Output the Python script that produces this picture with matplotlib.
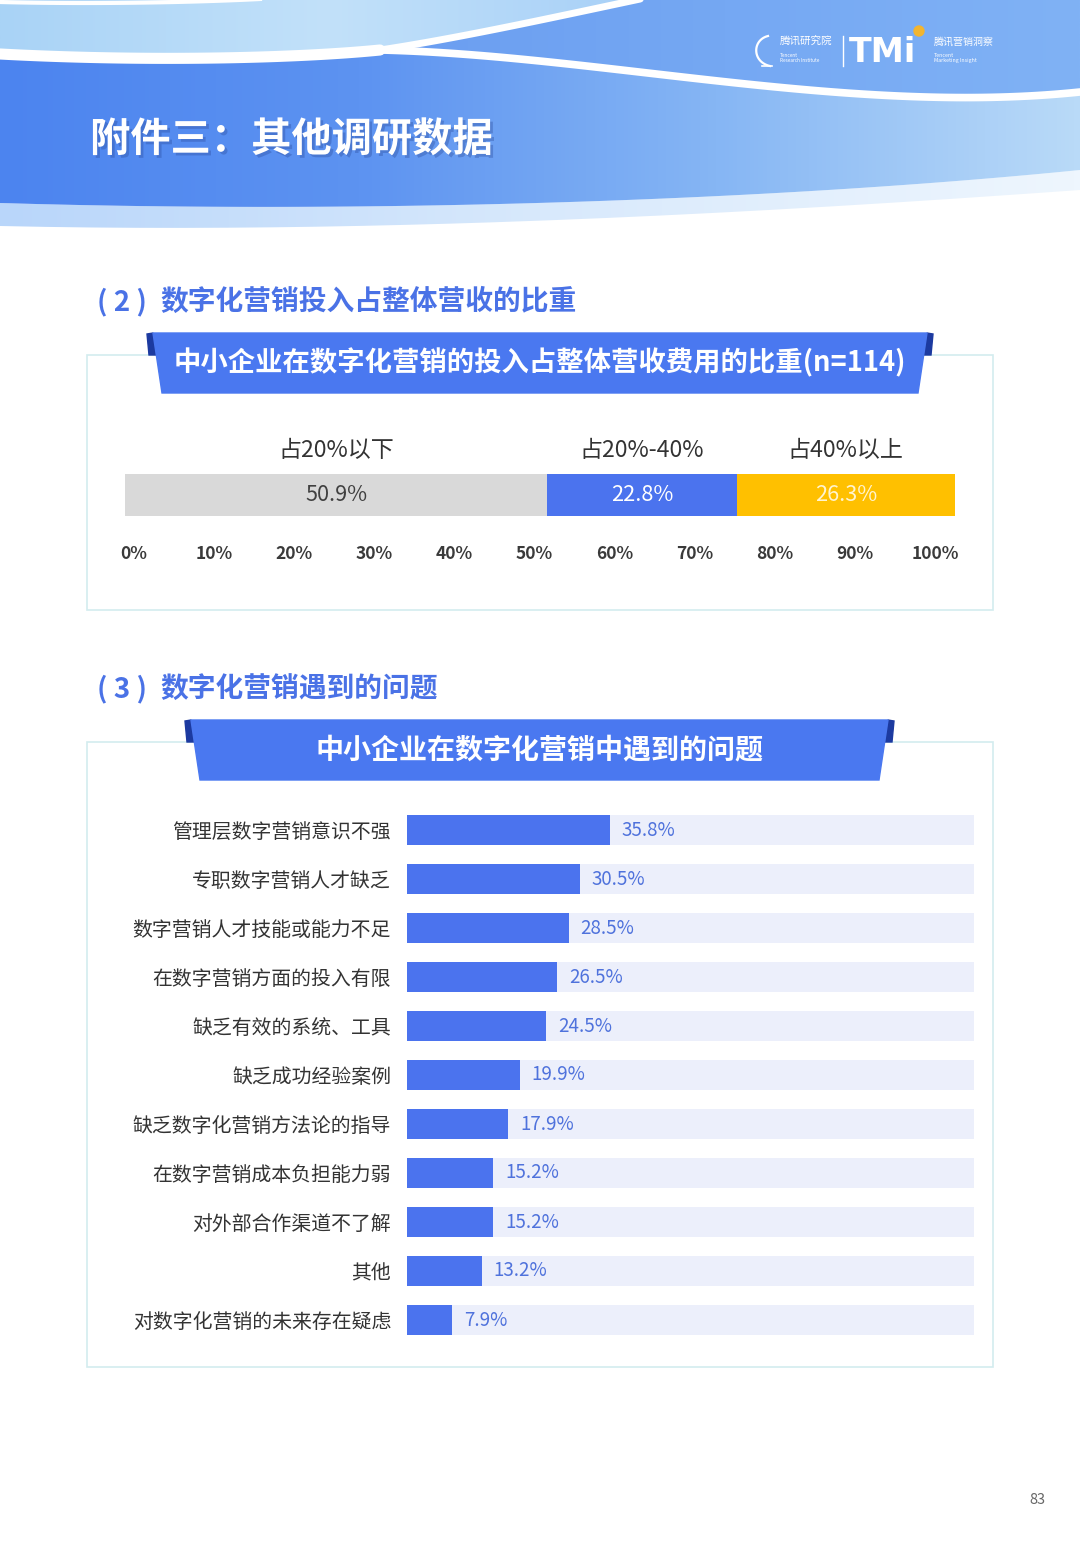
import numpy as np
import matplotlib
matplotlib.use("Agg")
import matplotlib.pyplot as plt
from matplotlib.path import Path
from matplotlib.patches import PathPatch, Polygon, Rectangle, Circle
from matplotlib.colors import LinearSegmentedColormap
import matplotlib.patheffects as pe

plt.rcParams['font.family'] = ['Noto Sans CJK SC', 'DejaVu Sans']

# ---------------- data ----------------
share_labels = ["占20%以下", "占20%-40%", "占40%以上"]
share_values = [50.9, 22.8, 26.3]
share_ticks = [0, 10, 20, 30, 40, 50, 60, 70, 80, 90, 100]

problems = ["管理层数字营销意识不强", "专职数字营销人才缺乏", "数字营销人才技能或能力不足",
            "在数字营销方面的投入有限", "缺乏有效的系统、工具", "缺乏成功经验案例",
            "缺乏数字化营销方法论的指导", "在数字营销成本负担能力弱", "对外部合作渠道不了解",
            "其他", "对数字化营销的未来存在疑虑"]
problem_values = [35.8, 30.5, 28.5, 26.5, 24.5, 19.9, 17.9, 15.2, 15.2, 13.2, 7.9]

page_title = "附件三：其他调研数据"
heading2_num = "( 2 )"
heading2 = "数字化营销投入占整体营收的比重"
banner2 = "中小企业在数字化营销的投入占整体营收费用的比重(n=114)"
heading3_num = "( 3 )"
heading3 = "数字化营销遇到的问题"
banner3 = "中小企业在数字化营销中遇到的问题"

# ---------------- styles ----------------
W, H = 1080, 1560
BLUE = "#4b73ee"
HEAD_BLUE = "#4a72e6"
GRAY = "#d9d9d9"
YELLOW = "#ffc000"
TRACK = "#eceffb"
BORDER = "#d3ecef"

fig = plt.figure(figsize=(W / 100, H / 100), dpi=100)
fig.patch.set_facecolor("white")

bg = fig.add_axes([0, 0, 1, 1])
bg.set_axis_off()
bg.set_zorder(0)


def px_axes(x0, y0, x1, y1):
    return fig.add_axes([x0 / W, 1 - y1 / H, (x1 - x0) / W, (y1 - y0) / H])


def bez(p0, p1, p2, p3, n=80):
    t = np.linspace(0, 1, n)[:, None]
    p0, p1, p2, p3 = map(np.array, (p0, p1, p2, p3))
    return (1 - t) ** 3 * p0 + 3 * (1 - t) ** 2 * t * p1 + 3 * (1 - t) * t ** 2 * p2 + t ** 3 * p3


def grad_fill(verts, colors, extent, z, vertical=False):
    patch = PathPatch(Path(verts), facecolor="none", edgecolor="none")
    bg.add_patch(patch)
    cmap = LinearSegmentedColormap.from_list("g", colors)
    arr = np.linspace(0, 1, 256)
    arr = arr.reshape(-1, 1) if vertical else arr.reshape(1, -1)
    im = bg.imshow(arr, cmap=cmap, extent=extent, aspect="auto", zorder=z,
                   interpolation="bilinear")
    im.set_clip_path(patch)


# ---- header decoration ----
cusp = (380, 50)
band_bottom = bez((1080, 170), (800, 198), (400, 215), (0, 203))
main_band = np.vstack([[(0, 0), (1080, 0)], band_bottom])
strip_bottom = bez((0, 226), (400, 235), (800, 210), (1080, 190))
strip = np.vstack([band_bottom, strip_bottom])
grad_fill(strip, ["#b9d6fa", "#d8e9fc", "#eef6fe"], (0, 1080, 240, 0), 1)
grad_fill(main_band, ["#4c84ef", "#5d93f1", "#86b6f4", "#b9daf8"], (0, 1080, 240, 0), 2)

rise = bez(cusp, (460, 38), (560, 16), (645, -2))
desc = bez(cusp, (600, 55), (850, 116), (1080, 92))
left_white = bez((0, 54), (150, 62), (300, 58), cusp)
upper_right = np.vstack([rise, [(1080, -2)], desc[::-1]])
grad_fill(upper_right, ["#6a9df1", "#75a8f3", "#80b2f5"], (370, 1080, 120, 0), 3)
upper_left = np.vstack([[(0, 0)], [(645, -2)], rise[::-1], left_white[::-1]])
grad_fill(upper_left, ["#a9d3f6", "#c2e1fa", "#a6cff7"], (0, 660, 70, 0), 3)
top_white = bez((0, 2), (80, 4), (180, 3), (260, -1))
bg.plot(top_white[:, 0], top_white[:, 1], color="white", lw=3, zorder=4)
bg.plot(left_white[:, 0], left_white[:, 1], color="white", lw=8, zorder=4, solid_capstyle="round")
bg.plot(rise[:, 0], rise[:, 1], color="white", lw=5, zorder=4, solid_capstyle="round")
bg.plot(desc[:, 0], desc[:, 1], color="white", lw=5.5, zorder=4, solid_capstyle="round")

bg.text(90, 140, page_title, color="white", fontsize=29, fontweight="bold",
        ha="left", va="center", zorder=6,
        path_effects=[pe.withSimplePatchShadow(offset=(2, -2), alpha=0.35, shadow_rgbFace="#2a4a9a")])

# ---- logo ----
icon = bez((768, 36), (752, 40), (752, 62), (770, 66))
bg.plot(icon[:, 0], icon[:, 1], color="white", lw=1.6, zorder=6)
bg.plot([762, 772], [66, 66], color="white", lw=1.2, zorder=6)
bg.text(780, 42, "腾讯研究院", color="white", fontsize=7.6, ha="left", va="center", zorder=6)
bg.text(780, 58, "Tencent\nResearch Institute", color="white", fontsize=3.4, ha="left",
        va="center", zorder=6, linespacing=1.1)
bg.plot([843, 843], [36, 66], color="white", lw=1, zorder=6)
bg.text(849, 52, "TMi", color="white", fontsize=24, fontweight="heavy", ha="left",
        va="center", zorder=6, family=["DejaVu Sans"])
bg.add_patch(Circle((919, 31), 5, color="#f2b530", zorder=7))
bg.text(934, 42, "腾讯营销洞察", color="white", fontsize=7.2, ha="left", va="center", zorder=6)
bg.text(934, 58, "Tencent\nMarketing Insight", color="white", fontsize=3.8, ha="left",
        va="center", zorder=6, linespacing=1.1)


def banner(x0, x1, y0, y1, text, fs):
    bg.add_patch(Polygon([(x0 - 1, y0 + 1), (x0 + 5, y0), (x0 + 8, y0 + 22), (x0 + 1, y0 + 22)],
                         closed=True, color="#1c3aa0", zorder=5))
    bg.add_patch(Polygon([(x1 + 1, y0 + 1), (x1 - 5, y0), (x1 - 8, y0 + 22), (x1 - 1, y0 + 22)],
                         closed=True, color="#1c3aa0", zorder=5))
    bg.add_patch(Polygon([(x0 + 5, y0), (x1 - 5, y0), (x1 - 14, y1), (x0 + 14, y1)],
                         closed=True, color="#4a78f0", zorder=6))
    bg.text((x0 + x1) / 2, (y0 + y1) / 2, text, color="white", fontsize=fs,
            fontweight="bold", ha="center", va="center", zorder=7)


def heading(y, num, text):
    bg.text(97, y, num, color=HEAD_BLUE, fontsize=20, fontweight="bold",
            ha="left", va="center", zorder=6)
    bg.text(160, y, text, color=HEAD_BLUE, fontsize=20, fontweight="bold",
            ha="left", va="center", zorder=6)


# ---- section 2 ----
heading(302, heading2_num, heading2)
bg.add_patch(Rectangle((87, 355), 906, 255, fill=False, edgecolor=BORDER, lw=1.2, zorder=2))
banner(148, 932, 333, 393, banner2, 19.7)

# ---- section 3 ----
heading(689, heading3_num, heading3)
bg.add_patch(Rectangle((87, 742), 906, 625, fill=False, edgecolor=BORDER, lw=1.2, zorder=2))
banner(186, 893, 720, 780, banner3, 20.2)

bg.text(1037, 1500, "83", color="#666666", fontsize=10.5, ha="center", va="center")

bg.set_xlim(0, W)
bg.set_ylim(H, 0)

# ---------------- stacked share bar ----------------
ax1 = px_axes(125, 474, 955, 516)
ax1.set_zorder(3)
ax1.patch.set_alpha(0)
share_colors = [GRAY, BLUE, YELLOW]
share_text_colors = ["#404040", "white", "#fff4d0"]
left = 0
for lab, v, c, tc in zip(share_labels, share_values, share_colors, share_text_colors):
    ax1.barh(0, v, left=left, height=1.0, color=c, edgecolor="none")
    ax1.text(left + v / 2, 0, f"{v:.1f}%", color=tc, fontsize=15.6, ha="center", va="center")
    ax1.text(left + v / 2, 1.07, lab, color="#333333", fontsize=16.6, ha="center",
             va="center", clip_on=False)
    left += v
ax1.set_xlim(0, sum(share_values))
ax1.set_ylim(-0.5, 0.5)
ax1.set_axis_off()

axt = px_axes(134, 541, 935, 544)
axt.patch.set_alpha(0)
axt.set_xlim(0, 100)
axt.set_xticks(share_ticks)
axt.set_xticklabels([f"{t}%" for t in share_ticks], fontsize=12.5, fontweight="bold",
                    color="#3a3a3a")
axt.tick_params(axis="x", length=0, pad=1)
axt.set_yticks([])
for s in axt.spines.values():
    s.set_visible(False)

# ---------------- problems bar chart ----------------
n = len(problems)
ax2 = px_axes(407, 805.5, 974, 1344.5)
ax2.set_zorder(3)
ax2.patch.set_alpha(0)
ypos = np.arange(n)
ax2.barh(ypos, [100] * n, height=0.61, color=TRACK, edgecolor="none")
ax2.barh(ypos, problem_values, height=0.61, color=BLUE, edgecolor="none")
for y, v in zip(ypos, problem_values):
    ax2.text(v + 2.1, y, f"{v:.1f}%", color="#4f72dc", fontsize=13.5, ha="left", va="center")
ax2.set_xlim(0, 100)
ax2.set_ylim(n - 0.5, -0.5)
ax2.set_yticks(ypos)
ax2.set_yticklabels(problems, fontsize=14.3, color="#333333")
ax2.tick_params(axis="y", length=0, pad=11.5)
ax2.set_xticks([])
for s in ax2.spines.values():
    s.set_visible(False)

fig.savefig("out.png", dpi=100)
